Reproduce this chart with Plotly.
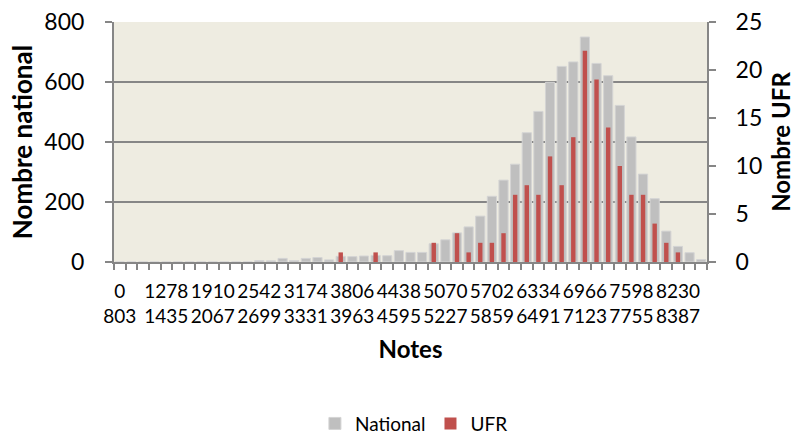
import plotly.graph_objects as go

# Category bins: lower and upper bounds of "Notes"
lower_bounds = [0] + [646 + 158 * k for k in range(1, 51)]
upper_bounds = [803 + 158 * k for k in range(0, 51)]
categories = [f"{lo}<br>{hi}" for lo, hi in zip(lower_bounds, upper_bounds)]

national = [0, 0, 0, 0, 0, 0, 0, 0, 0, 0, 0, 0,
            5, 4, 12, 5, 12, 15, 7, 19, 18, 20, 22, 21, 38, 32, 32, 61, 74, 97,
            117, 153, 219, 273, 326, 431, 502, 599, 652, 667, 750, 662, 621,
            522, 417, 293, 211, 103, 52, 31, 8]
ufr = [0, 0, 0, 0, 0, 0, 0, 0, 0, 0, 0, 0,
       0, 0, 0, 0, 0, 0, 0, 1, 0, 0, 1, 0, 0, 0, 0, 2, 0, 3,
       1, 2, 2, 3, 7, 8, 7, 11, 8, 13, 22, 19, 14,
       10, 7, 7, 4, 2, 1, 0, 0]

left_ticks = [0, 200, 400, 600, 800]
right_ticks = [0, 5, 10, 15, 20, 25]
label_every = 4

xpos = list(range(len(categories)))
shown = xpos[::label_every]

FONT = "Lato"
AXIS_COLOR = "#868686"

fig = go.Figure()
fig.add_trace(go.Bar(
    x=xpos, y=national, name="National", width=0.79,
    marker=dict(color="#BFBFBF", line=dict(color="#D4D4D4", width=1)),
))
fig.add_trace(go.Bar(
    x=xpos, y=ufr, name="UFR", width=0.38, yaxis="y2",
    marker=dict(color="#C0504D", line=dict(width=0)),
))

fig.update_layout(
    width=796, height=434,
    margin=dict(l=114, r=89, t=22, b=172, autoexpand=False),
    paper_bgcolor="white",
    plot_bgcolor="#EEECE1",
    barmode="overlay",
    font=dict(family=FONT, size=18, color="black"),
    showlegend=True,
    legend=dict(orientation="h", xref="container", yref="container",
                x=0.52, xanchor="center", y=0.024, yanchor="middle",
                font=dict(size=19), itemwidth=30, traceorder="normal"),
    xaxis=dict(
        automargin=False,
        range=[-0.5, len(categories) - 0.5],
        tickmode="array", tickvals=shown, ticktext=[categories[i] for i in shown],
        tickangle=0, ticks="", ticklabelstandoff=11,
        tickfont=dict(size=19),
        showline=True, linecolor=AXIS_COLOR, linewidth=2,
        showgrid=False, zeroline=False,
        minor=dict(ticks="outside", tickmode="array",
                   tickvals=[i - 0.5 for i in range(len(categories) + 1)],
                   ticklen=6, tickcolor=AXIS_COLOR, tickwidth=1.5, showgrid=False),
        title=dict(text="<b>Notes</b>", font=dict(size=24), standoff=16),
    ),
    yaxis=dict(
        automargin=False,
        range=[0, 800], tickmode="array", tickvals=left_ticks,
        ticks="outside", ticklen=7, tickcolor=AXIS_COLOR, tickwidth=1.5,
        ticklabelstandoff=16,
        showline=True, linecolor=AXIS_COLOR, linewidth=2,
        showgrid=True, gridcolor=AXIS_COLOR, gridwidth=2, zeroline=False,
        tickfont=dict(size=23),
        title=dict(text="<b>Nombre national</b>", font=dict(size=26), standoff=4),
    ),
    yaxis2=dict(
        automargin=False,
        range=[0, 25], tickmode="array", tickvals=right_ticks,
        overlaying="y", side="right",
        ticks="outside", ticklen=7, tickcolor=AXIS_COLOR, tickwidth=1.5,
        ticklabelstandoff=15,
        showline=True, linecolor=AXIS_COLOR, linewidth=2,
        showgrid=False, zeroline=False,
        tickfont=dict(size=23),
        title=dict(text="<b>Nombre UFR</b>", font=dict(size=24), standoff=12),
    ),
)

fig.write_html("out.html", config={"displayModeBar": False},
               post_script="document.body.style.margin='0';")
